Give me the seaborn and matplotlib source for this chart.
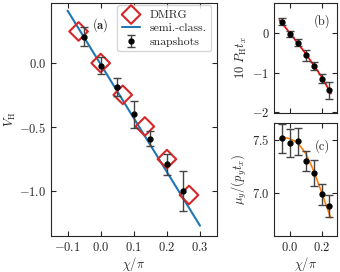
import matplotlib
matplotlib.use('Agg')
import matplotlib.pyplot as plt
import numpy as np
import pandas as pd
import seaborn as sns

# Data
chi_dmrg = [-0.0667, 0.0, 0.0667, 0.1333, 0.2, 0.2667]
vh_dmrg = [0.247, 0.0, -0.248, -0.495, -0.75, -1.03]

chi_semi = [-0.1, 0.3]
vh_semi = [0.41, -1.27]

chi_snap = [-0.05, 0.0, 0.05, 0.1, 0.15, 0.2, 0.25]
vh_snap = [0.205, -0.02, -0.19, -0.40, -0.59, -0.79, -1.0]
vh_err = [0.075, 0.065, 0.07, 0.105, 0.06, 0.08, 0.155]

ph_snap = [0.29, -0.02, -0.24, -0.56, -0.82, -1.15, -1.45]
ph_err = [0.09, 0.08, 0.085, 0.13, 0.10, 0.12, 0.21]
chi_ph_fit = [-0.068, 0.0, 0.1, 0.2, 0.26]
ph_fit = [0.34, 0.0, -0.52, -1.1, -1.53]

mu_snap = [7.515, 7.47, 7.485, 7.30, 7.19, 6.99, 6.88]
mu_err = [0.135, 0.13, 0.13, 0.095, 0.12, 0.10, 0.10]
chi_mu_fit = [-0.068, -0.03, 0.0, 0.05, 0.1, 0.15, 0.2, 0.258]
mu_fit = [7.51, 7.52, 7.51, 7.47, 7.37, 7.21, 7.01, 6.77]

sns.set_style('ticks')
plt.rcParams['font.family'] = ['cmr10', 'DejaVu Serif']
plt.rcParams['mathtext.fontset'] = 'cm'
plt.rcParams['axes.formatter.use_mathtext'] = True
plt.rcParams['font.size'] = 9
plt.rcParams['axes.linewidth'] = 0.8
plt.rcParams['xtick.direction'] = 'in'
plt.rcParams['ytick.direction'] = 'in'
plt.rcParams['xtick.top'] = True
plt.rcParams['ytick.right'] = True

fig = plt.figure(figsize=(3.4, 2.72), dpi=100)
ax_a = fig.add_axes([0.150, 0.1324, 0.487, 0.857])
ax_b = fig.add_axes([0.807, 0.5835, 0.185, 0.4055])
ax_c = fig.add_axes([0.807, 0.1324, 0.185, 0.4165])

err_kw = dict(fmt='o', color='black', ecolor='#444444', markersize=3.5,
              capsize=3, elinewidth=1.0, capthick=1.0)

# (a)
df_dmrg = pd.DataFrame({'chi': chi_dmrg, 'vh': vh_dmrg})
df_semi = pd.DataFrame({'chi': chi_semi, 'vh': vh_semi})
sns.lineplot(data=df_semi, x='chi', y='vh', ax=ax_a, color='tab:blue', lw=1.5,
             label='semi.-class.', zorder=2)
sns.scatterplot(data=df_dmrg, x='chi', y='vh', ax=ax_a, marker='D', s=90,
                facecolor='none', edgecolor='tab:red', linewidth=1.5,
                label='DMRG', zorder=3)
ax_a.errorbar(chi_snap, vh_snap, yerr=vh_err, label='snapshots', zorder=4, **err_kw)
ax_a.set_xlim(-0.15, 0.35)
ax_a.set_ylim(-1.35, 0.47)
ax_a.set_xticks([-0.1, 0.0, 0.1, 0.2, 0.3])
ax_a.set_yticks([0.0, -0.5, -1.0])
ax_a.set_xlabel(r'$\chi/\pi$', labelpad=1)
ax_a.set_ylabel(r'$V_{\rm H}$', labelpad=1)
handles, labels = ax_a.get_legend_handles_labels()
order = [labels.index(l) for l in ['DMRG', 'semi.-class.', 'snapshots']]
ax_a.legend([handles[i] for i in order], [labels[i] for i in order],
            loc='upper right', bbox_to_anchor=(0.966, 0.99), fontsize=8.5,
            handlelength=1.6, borderaxespad=0.0, labelspacing=0.3,
            handletextpad=0.8, borderpad=0.35)
ax_a.text(0.245, 0.906, r'$\mathbf{(a)}$', transform=ax_a.transAxes,
          ha='left', va='center')

# (b)
ax_b.plot(chi_ph_fit, ph_fit, color='red', lw=1.2, zorder=2)
ax_b.errorbar(chi_snap, ph_snap, yerr=ph_err, zorder=3, **err_kw)
ax_b.set_xlim(-0.1, 0.3)
ax_b.set_ylim(-2.03, 0.77)
ax_b.set_xticks([0.0, 0.2])
ax_b.set_xticklabels([])
ax_b.set_yticks([0, -1, -2])
ax_b.set_ylabel(r'$10\ P_{\rm H} t_x$', labelpad=2)
ax_b.text(0.89, 0.84, '(b)', transform=ax_b.transAxes, ha='right', va='center')

# (c)
ax_c.plot(chi_mu_fit, mu_fit, color='tab:orange', lw=1.2, zorder=2)
ax_c.errorbar(chi_snap, mu_snap, yerr=mu_err, zorder=3, **err_kw)
ax_c.set_xlim(-0.1, 0.3)
ax_c.set_ylim(6.6, 7.66)
ax_c.set_xticks([0.0, 0.2])
ax_c.set_yticks([7.0, 7.5])
ax_c.set_xlabel(r'$\chi/\pi$', labelpad=1)
ax_c.set_ylabel(r'$\mu_y/(p_y t_x)$', labelpad=2)
ax_c.text(0.89, 0.79, '(c)', transform=ax_c.transAxes, ha='right', va='center')

fig.savefig('out.png', dpi=100)
